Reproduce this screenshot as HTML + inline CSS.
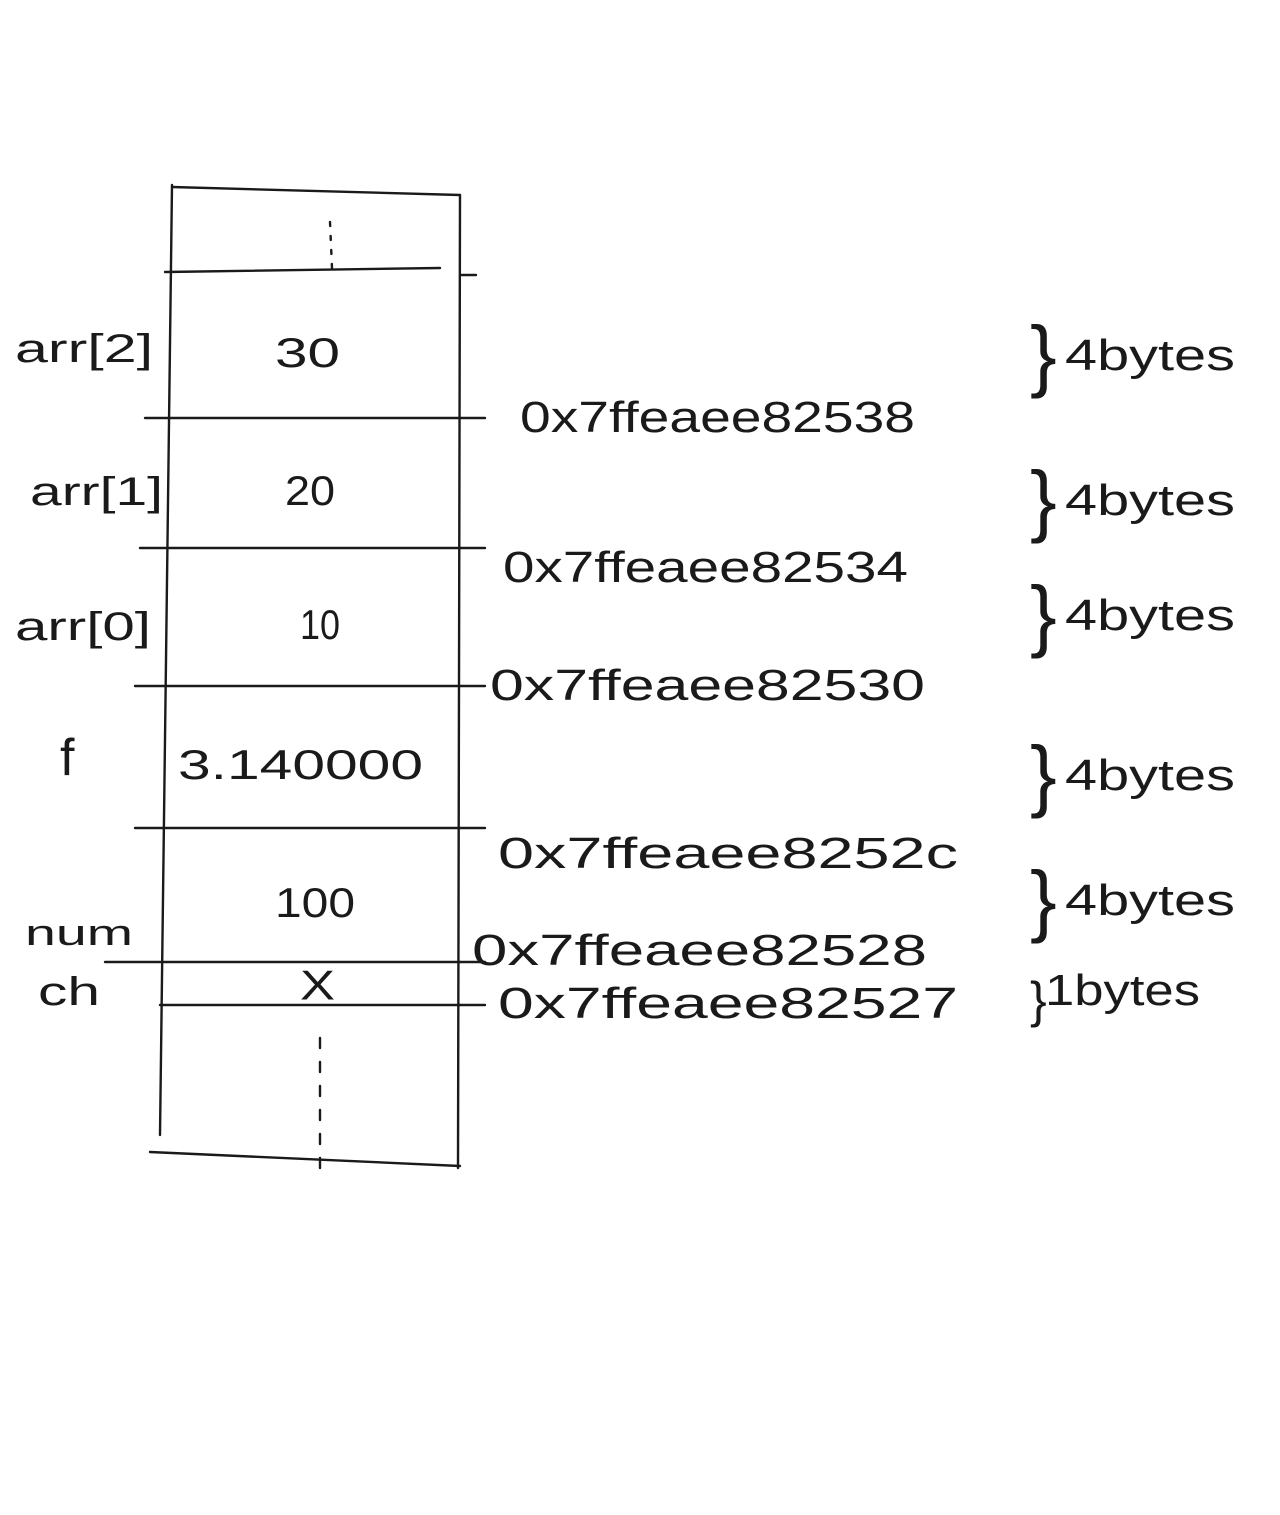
<!DOCTYPE html>
<html><head><meta charset="utf-8">
<style>
html,body{margin:0;padding:0;background:#fff;}
svg{display:block;}
text{font-family:"Liberation Sans",sans-serif;fill:#1a1a1a;}
</style></head>
<body>
<svg id="s" width="1280" height="1515" viewBox="0 0 1280 1515">
<g id="lines" stroke="#1a1a1a" stroke-width="2.4" fill="none" stroke-linecap="round"></g>
<g id="labels"></g>
</svg>
<script>
// row data (top to bottom)
const names = ["arr[2]","arr[1]","arr[0]","f","num","ch"];
const values = ["30","20","10","3.140000","100","X"];
const addresses = ["0x7ffeaee82538","0x7ffeaee82534","0x7ffeaee82530","0x7ffeaee8252c","0x7ffeaee82528","0x7ffeaee82527"];
const sizes = ["4bytes","4bytes","4bytes","4bytes","4bytes","1bytes"];

const NS="http://www.w3.org/2000/svg";
const L=document.getElementById('lines'), T=document.getElementById('labels');
function line(x1,y1,x2,y2,name,dash){
  const e=document.createElementNS(NS,'line');
  e.setAttribute('x1',x1);e.setAttribute('y1',y1);e.setAttribute('x2',x2);e.setAttribute('y2',y2);
  if(dash)e.setAttribute('stroke-dasharray',dash);
  
  
  L.appendChild(e);
}
function text(x,y,s,size,len,name){
  const e=document.createElementNS(NS,'text');
  e.setAttribute('x',x);e.setAttribute('y',y);e.setAttribute('font-size',size);
  if(len){e.setAttribute('textLength',len);e.setAttribute('lengthAdjust','spacingAndGlyphs');}
  e.textContent=s;
  
  
  T.appendChild(e);
}
// frame
line(172,185,160,1135,'left-wall');
line(460,195,458,1168,'right-wall');
line(172,187,460,195,'top-edge');
line(165,272,440,268,'divider-top');
line(460,275,476,275,'tick-top');
line(330,222,332,268,'ellipsis-top','4 10');
line(320,1038,320,1170,'ellipsis-bottom','10 14');
line(150,1152,460,1166,'bottom-edge');
// row boundaries (bottom of each row)
const bounds=[418,548,686,828,962,1005];
const leftStart=[145,140,135,135,105,160];
const rowTop=[272,418,548,686,828,962];
const nameX=[15,30,15,60,25,38];
const nameY=[362,505,640,775,945,1005];
const nameS=[40,40,40,52,36,40];
const nameW=[138,133,136,null,108,62];
const valX=[275,285,300,178,275,300];
const valW=[65,50,40,245,80,35];
const addrX=[520,503,490,498,472,498];
const addrW=[395,405,435,460,455,460];
const addrY=[432,582,700,868,965,1018];
const sizeY=[370,515,630,790,915,1005];
names.forEach((n,i)=>{
  const y=bounds[i];
  line(leftStart[i],y,460,y,'row-divider-'+i);
  line(460,y,485,y,'address-tick-'+i);
  const mid=(rowTop[i]+y)/2;
  text(nameX[i], nameY[i], n, nameS[i], nameW[i], 'variable-label-'+i);
  text(valX[i], i==5?mid+16:mid+22, values[i], 42, valW[i], 'value-'+i);
  text(addrX[i], addrY[i], addresses[i], 44, addrW[i], 'address-'+i);
  const by=sizeY[i];
  text(1030, by+12, "}", i==5?50:80, null, 'brace-'+i);
  text(i==5?1045:1065, by, sizes[i], 44, i==5?155:170, 'size-label-'+i);
});
</script>
</body></html>
